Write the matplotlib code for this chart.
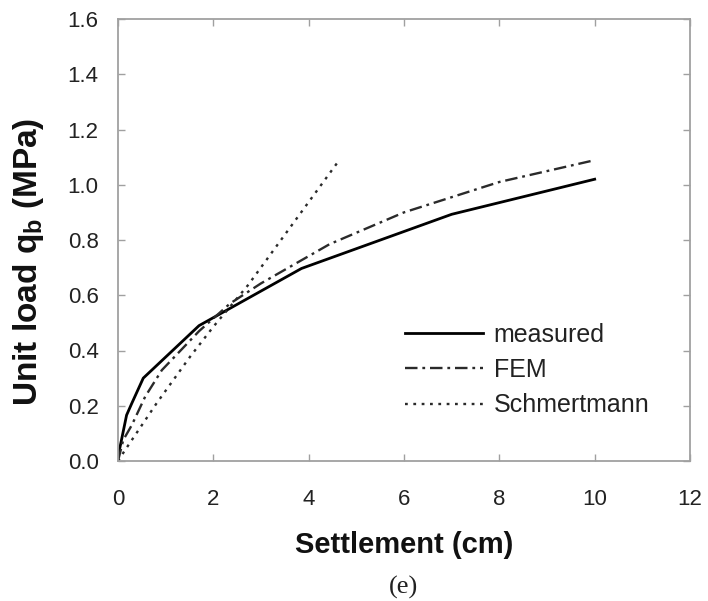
import matplotlib
matplotlib.use("Agg")
import matplotlib.pyplot as plt

plt.rcParams['font.family'] = ['Liberation Sans', 'DejaVu Sans']
plt.rcParams['mathtext.fontset'] = 'custom'
plt.rcParams['mathtext.rm'] = 'Liberation Sans'
plt.rcParams['mathtext.bf'] = 'Liberation Sans:bold'
plt.rcParams['lines.scale_dashes'] = False

meas_x = [0.0, 0.18, 0.29, 0.53, 1.70, 3.85, 7.0, 10.0]
meas_y = [0.015, 0.166, 0.209, 0.30, 0.49, 0.697, 0.893, 1.02]
fem_x = [0.0, 0.11, 0.29, 0.57, 0.92, 1.70, 2.35, 3.0, 4.44, 6.0, 8.0, 10.0]
fem_y = [0.0, 0.076, 0.13, 0.233, 0.329, 0.47, 0.57, 0.643, 0.785, 0.90, 1.01, 1.089]
sch_x = [0.0, 0.15, 0.81, 1.51, 2.0, 2.73, 4.59]
sch_y = [0.0, 0.04, 0.209, 0.377, 0.486, 0.637, 1.077]

xticks = [0, 2, 4, 6, 8, 10, 12]
yticks = [0.0, 0.2, 0.4, 0.6, 0.8, 1.0, 1.2, 1.4, 1.6]

W, H = 708, 601
fig = plt.figure(figsize=(W/100, H/100), dpi=100)
L, R, T, B = 118, 690, 19, 461
ax = fig.add_axes([L/W, 1-B/H, (R-L)/W, (B-T)/H])

ax.plot(meas_x, meas_y, color='black', lw=2.0, label='measured')
ax.plot(fem_x, fem_y, color='#2a2a2a', lw=1.7, dashes=(9, 3.5, 2, 3.5), label='FEM')
ax.plot(sch_x, sch_y, color='#2a2a2a', lw=1.7, dashes=(2, 4), label='Schmertmann')

ax.set_xlim(0, 12)
ax.set_ylim(0, 1.6)
ax.set_xticks(xticks)
ax.set_yticks(yticks)
ax.set_xticklabels([str(t) for t in xticks])
ax.set_yticklabels([f"{t:.1f}" for t in yticks])
ax.tick_params(direction='in', length=5, width=1, colors='#a0a0a0', labelcolor='#222222',
               labelsize=16, top=True, right=True)
ax.tick_params(axis='x', pad=20)
ax.tick_params(axis='y', pad=14)
for s in ax.spines.values():
    s.set_color('#a0a0a0')
    s.set_linewidth(1.3)

fig.text((L+R)/2/W, 1-545/H, 'Settlement (cm)', ha='center', va='center', fontsize=21,
         fontweight='bold', color='#111111')
fig.text(29/W, 1-262/H, r'Unit load q$_\mathbf{b}$ (MPa)', ha='center', va='center',
         rotation=90, fontsize=24, fontweight='bold', color='#111111')

leg = ax.legend(loc='center left', bbox_to_anchor=(405/W, 1-370/H), bbox_transform=fig.transFigure,
                frameon=False, fontsize=18, handlelength=3.1, labelspacing=0.45,
                handletextpad=0.45, borderpad=0, borderaxespad=0)
for t in leg.get_texts():
    t.set_color('#222222')

fig.text(403/W, 1-587/H, '(e)', ha='center', va='center', fontsize=19,
         family='Liberation Serif', color='#222222')

fig.savefig('out.png', dpi=100)
